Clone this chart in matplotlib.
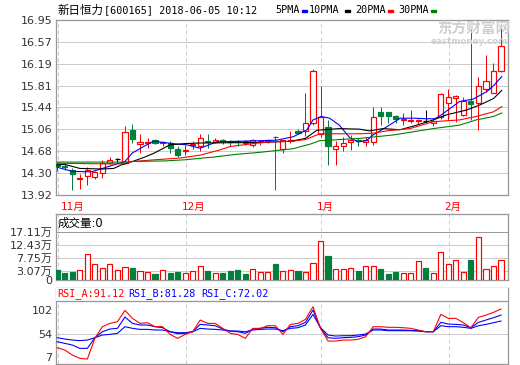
import matplotlib
matplotlib.use('Agg')
import matplotlib.pyplot as plt
from matplotlib.patches import Rectangle
from matplotlib.transforms import blended_transform_factory
import numpy as np

plt.rcParams['font.family'] = ['DejaVu Sans', 'Noto Sans CJK SC']

W, H = 520, 365
PX = 0.72  # one pixel in points at dpi 100

# ---- data ----
# open, high, low, close per trading day
ohlc = [
    (14.45, 14.50, 14.33, 14.42), (14.43, 14.46, 14.36, 14.40), (14.36, 14.38, 14.01, 14.28),
    (14.20, 14.28, 14.03, 14.22), (14.25, 14.40, 14.09, 14.35), (14.23, 14.34, 14.20, 14.32),
    (14.30, 14.53, 14.22, 14.47), (14.48, 14.57, 14.46, 14.52), (14.55, 14.56, 14.47, 14.55),
    (14.48, 15.11, 14.46, 15.01), (15.05, 15.15, 14.82, 14.89), (14.81, 14.98, 14.65, 14.83),
    (14.82, 14.90, 14.73, 14.84), (14.87, 14.89, 14.80, 14.82), (14.82, 14.86, 14.76, 14.83),
    (14.82, 14.85, 14.65, 14.74), (14.72, 14.77, 14.58, 14.62), (14.69, 14.78, 14.62, 14.70),
    (14.78, 14.85, 14.71, 14.80), (14.76, 14.97, 14.68, 14.91), (14.85, 14.97, 14.73, 14.83),
    (14.84, 14.90, 14.82, 14.88), (14.87, 14.89, 14.80, 14.86), (14.85, 14.87, 14.77, 14.84),
    (14.85, 14.87, 14.77, 14.83), (14.85, 14.88, 14.78, 14.82), (14.79, 14.89, 14.75, 14.87),
    (14.83, 14.87, 14.79, 14.85), (14.86, 14.88, 14.82, 14.87), (14.93, 14.94, 14.01, 14.92),
    (14.72, 14.88, 14.65, 14.87), (14.86, 15.02, 14.82, 14.88), (15.03, 15.06, 14.97, 14.99),
    (15.02, 15.69, 14.95, 15.17), (15.16, 16.10, 15.14, 16.06), (14.98, 15.80, 14.92, 15.27),
    (15.10, 15.22, 14.44, 14.77), (14.72, 14.86, 14.44, 14.77), (14.77, 14.92, 14.69, 14.82),
    (14.83, 14.96, 14.70, 14.87), (14.88, 14.91, 14.77, 14.85), (14.84, 14.92, 14.77, 14.88),
    (14.84, 15.45, 14.79, 15.27), (15.36, 15.45, 15.13, 15.28), (15.35, 15.36, 15.16, 15.29),
    (15.29, 15.30, 15.16, 15.24), (15.22, 15.34, 15.13, 15.24), (15.20, 15.39, 15.17, 15.22),
    (15.20, 15.24, 15.15, 15.21), (15.20, 15.39, 15.17, 15.20), (15.16, 15.24, 15.12, 15.20),
    (15.27, 15.69, 15.24, 15.67), (15.52, 15.75, 15.22, 15.62), (15.60, 15.66, 15.19, 15.63),
    (15.31, 15.61, 15.28, 15.54), (15.54, 16.79, 15.22, 15.50), (15.51, 15.97, 15.05, 15.81),
    (15.75, 16.34, 15.71, 15.89), (15.69, 16.21, 15.68, 16.07), (16.07, 16.86, 16.05, 16.50),
]

# volume in 万
volume = [3.6, 2.6, 2.85, 3.6, 9.3, 5.7, 4.2, 5.7, 3.6, 4.5,
          4.3, 3.1, 2.85, 2.25, 3.45, 2.6, 2.95, 2.5, 3.3, 5.0,
          3.2, 2.4, 2.6, 3.3, 3.6, 2.25, 3.8, 2.85, 2.75, 5.7,
          3.1, 3.45, 3.2, 2.85, 5.9, 13.9, 8.55, 3.8, 3.8, 4.2,
          3.2, 4.9, 4.9, 3.9, 2.1, 2.85, 2.4, 2.4, 6.65, 4.3,
          2.4, 9.9, 5.6, 7.0, 2.75, 7.1, 15.2, 3.8, 4.9, 7.0]

# moving averages, sampled at (day index, value)
ma5_x = [0, 2, 4.5, 6, 7.5, 9, 10, 11.5, 12.8, 16, 17.2, 19, 21.2, 27, 29.2, 31.4, 33.2, 34,
         35.1, 36.2, 37.5, 38.9, 40, 41.1, 42, 43.8, 45.6, 47.4, 49.1, 50.2, 51.1, 53.5, 55.3,
         57.1, 58, 59.1]
ma5_y = [14.40, 14.33, 14.32, 14.38, 14.44, 14.50, 14.65, 14.76, 14.85, 14.80, 14.79, 14.73,
         14.84, 14.86, 14.87, 14.93, 15.05, 15.22, 15.28, 15.25, 15.13, 14.91, 14.84, 14.86,
         14.96, 15.10, 15.25, 15.25, 15.24, 15.24, 15.31, 15.54, 15.58, 15.71, 15.81, 15.97]
ma10_x = [0, 1, 3, 6, 7.5, 8.5, 10, 11.5, 12.8, 15, 17, 19, 27, 31, 33, 34.5, 37.5, 40.2, 41.5,
          43.3, 45.6, 47.8, 50, 51.8, 54.4, 56.2, 58, 59.1]
ma10_y = [14.44, 14.45, 14.38, 14.37, 14.38, 14.44, 14.50, 14.57, 14.64, 14.79, 14.81, 14.82,
          14.83, 14.85, 14.90, 15.04, 15.07, 15.06, 15.03, 15.07, 15.05, 15.13, 15.22, 15.31,
          15.39, 15.48, 15.59, 15.73]
ma20_x = [0, 6, 8.5, 10, 13, 16.3, 19, 21.6, 23, 26.7, 28.3, 31.2, 33, 34.9, 40.2, 42, 43.8,
          46.9, 50, 53.5, 55.7, 58, 59.1]
ma20_y = [14.47, 14.46, 14.46, 14.50, 14.53, 14.56, 14.61, 14.70, 14.76, 14.82, 14.84, 14.85,
          14.88, 14.98, 14.98, 14.99, 15.03, 15.07, 15.19, 15.22, 15.28, 15.36, 15.45]
ma30_x = [0, 9, 10, 14.3, 17, 21, 23.5, 27, 31.3, 33.6, 34.9, 40.2, 44.7, 50, 53.5, 55.7, 58, 59.1]
ma30_y = [14.49, 14.49, 14.50, 14.51, 14.53, 14.58, 14.62, 14.66, 14.72, 14.80, 14.86, 14.90,
          14.96, 15.07, 15.13, 15.22, 15.28, 15.34]

rsi_a = [25.4, 20.7, 10.5, 3.7, 2.3, 44.5, 68.3, 75.0, 78.5, 101.6,
         85.3, 75.0, 76.4, 68.3, 68.3, 52.6, 44.5, 52.6, 58.0, 81.9,
         75.0, 75.0, 64.9, 54.7, 52.6, 44.5, 64.9, 64.9, 70.3, 70.3,
         52.6, 73.0, 75.0, 83.2, 109.0, 64.9, 39.0, 39.0, 41.0, 41.0,
         42.4, 47.9, 68.3, 68.3, 67.0, 67.0, 66.2, 64.9, 61.5, 58.0,
         58.0, 93.4, 85.3, 85.3, 76.4, 66.2, 87.3, 92.0, 97.5, 104.3]
rsi_b = [37.7, 34.3, 30.9, 24.1, 24.1, 45.8, 58.0, 63.5, 64.9, 88.0,
         75.0, 71.7, 71.7, 68.3, 66.2, 58.0, 54.0, 54.7, 58.0, 73.0,
         71.7, 70.3, 63.5, 59.4, 58.0, 54.7, 63.5, 64.9, 67.0, 66.2,
         58.0, 68.3, 70.3, 77.1, 102.3, 64.9, 45.8, 44.5, 45.8, 46.5,
         47.9, 51.3, 63.5, 63.5, 61.5, 61.5, 61.5, 60.8, 60.1, 58.0,
         58.0, 77.1, 73.7, 73.0, 71.7, 66.2, 77.1, 81.9, 86.6, 92.0]
rsi_c = [45.8, 43.1, 41.1, 39.7, 41.1, 45.8, 51.3, 52.6, 54.7, 68.3,
         64.9, 62.8, 62.8, 61.5, 61.5, 58.0, 56.0, 56.0, 58.0, 64.9,
         63.5, 62.8, 61.5, 59.4, 59.4, 58.0, 61.5, 62.8, 63.5, 63.5,
         60.1, 64.9, 66.2, 71.7, 93.4, 66.2, 51.3, 49.2, 49.9, 49.9,
         51.3, 53.3, 61.5, 61.5, 60.1, 60.1, 60.1, 60.1, 59.4, 58.0,
         58.0, 70.3, 68.3, 68.3, 67.0, 64.9, 70.3, 73.0, 76.4, 79.8]

price_ticks = [13.92, 14.30, 14.68, 15.06, 15.44, 15.81, 16.19, 16.57, 16.95]
vol_ticks = [0, 3.07, 7.75, 12.43, 17.11]
vol_labels = ['0', '3.07万', '7.75万', '12.43万', '17.11万']
rsi_ticks = [7, 54, 102]
month_start = [0, 17, 35, 52]
month_names = ['11月', '12月', '1月', '2月']

RED, GREEN, BLUE = '#ff0000', '#00803c', '#0000ff'
GRID, FRAME, TXT = '#cccccc', '#999999', '#333333'
XL = (-0.17, 59.93)
BW = 0.68

fig = plt.figure(figsize=(W / 100, H / 100), dpi=100)


def box(top, bottom):
    return [56 / W, 1 - bottom / H, (508 - 56) / W, (bottom - top) / H]


def frame(ax):
    ax.set_xlim(*XL)
    ax.set_xticks([])
    for s in ax.spines.values():
        s.set_color(FRAME)
        s.set_linewidth(PX * 1.3)
    ax.tick_params(axis='y', length=0, pad=2.5, labelsize=8, labelcolor=TXT)
    for m in month_start:
        ax.axvline(m + 0.1, color=GRID, lw=PX, ls=(0, (4, 3)), zorder=0)


# ---- price panel ----
ax_p = fig.add_axes(box(20, 195))
frame(ax_p)
ax_p.set_ylim(13.92, 16.95)
ax_p.set_yticks(price_ticks)
ax_p.set_yticklabels(['%.2f' % t for t in price_ticks])
for t in price_ticks[1:-1]:
    ax_p.axhline(t, color=GRID, lw=PX, zorder=0)

prev_c = None
for i, (o, hi, lo, c) in enumerate(ohlc):
    if c > o:
        col, face = RED, 'white'
    elif c < o:
        col, face = GREEN, GREEN
    else:
        col, face = 'black', 'black'
    top, bot = max(o, c), min(o, c)
    ax_p.vlines(i, top, hi, color=col, lw=PX, zorder=3)
    ax_p.vlines(i, lo, bot, color=col, lw=PX, zorder=3)
    if c == o:
        ax_p.hlines(o, i - BW / 2, i + BW / 2, color=col, lw=PX * 1.3, zorder=3)
    else:
        ax_p.add_patch(Rectangle((i - BW / 2, bot), BW, top - bot, facecolor=face,
                                 edgecolor=col, lw=PX * 1.2, zorder=3))

ax_p.plot(ma5_x, ma5_y, color=BLUE, lw=PX * 1.1, zorder=4)
ax_p.plot(ma10_x, ma10_y, color='black', lw=PX * 1.1, zorder=4)
ax_p.plot(ma20_x, ma20_y, color=RED, lw=PX * 1.1, zorder=4)
ax_p.plot(ma30_x, ma30_y, color='#008000', lw=PX * 1.1, zorder=4)

tr = blended_transform_factory(ax_p.transData, ax_p.transAxes)
for m, name in zip(month_start, month_names):
    ax_p.text(max(m - 0.5, 0.5), -0.069, name, transform=tr, color=RED, fontsize=7.5,
              ha='left', va='center', clip_on=False)

# watermark
fig.text(437 / W, 1 - 29 / H, '东方财富网', fontsize=10.5, color='#d0d0d0', weight='bold',
         family=['Noto Sans CJK SC'], ha='left', va='center')
fig.text(508 / W, 1 - 41 / H, 'eastmoney.com', fontsize=6.3, color='#d0d0d0', weight='bold',
         ha='right', va='center')

# ---- volume panel ----
ax_v = fig.add_axes(box(214, 280))
frame(ax_v)
ax_v.set_ylim(0, 17.11 * 66 / 48)
ax_v.set_yticks(vol_ticks)
ax_v.set_yticklabels(vol_labels)
for t in vol_ticks[1:]:
    ax_v.axhline(t, color=FRAME if t == vol_ticks[-1] else GRID, lw=PX, zorder=0)

for i, ((o, hi, lo, c), v) in enumerate(zip(ohlc, volume)):
    up = c > o or (c == o and (i == 0 or c >= ohlc[i - 1][3]))
    ax_v.add_patch(Rectangle((i - BW / 2, 0), BW, v, facecolor='white' if up else GREEN,
                             edgecolor=RED if up else GREEN, lw=PX * 1.2, zorder=3))
ax_v.text(58 / W, 1 - 223 / H, '成交量:0', transform=fig.transFigure, fontsize=8.3,
          color='black', ha='left', va='center')

# ---- RSI panel ----
ax_r = fig.add_axes(box(288, 364))
frame(ax_r)
ax_r.set_ylim(-7.8, 147.2)
ax_r.set_yticks(rsi_ticks)
ax_r.set_yticklabels([str(t) for t in rsi_ticks])
ax_r.axhline(54, color=GRID, lw=PX, zorder=0)
ax_r.axhline(120.7, color=FRAME, lw=PX * 1.3, zorder=5)
ax_r.add_patch(Rectangle((XL[0], 120.7), XL[1] - XL[0], 30, facecolor='white', zorder=4))
days = np.arange(len(rsi_a))
ax_r.plot(days, rsi_c, color=BLUE, lw=PX * 1.1, zorder=3)
ax_r.plot(days, rsi_b, color=BLUE, lw=PX * 1.1, zorder=3)
ax_r.plot(days, rsi_a, color=RED, lw=PX * 1.1, zorder=3)

mono = 'DejaVu Sans Mono'
for x, s, col in [(57, 'RSI_A:91.12', RED), (128, 'RSI_B:81.28', BLUE), (201, 'RSI_C:72.02', BLUE)]:
    fig.text(x / W, 1 - 294 / H, s, color=col, fontsize=7.3, family=mono, ha='left', va='center')

# ---- header ----
fig.text(57 / W, 1 - 10 / H, '新日恒力', fontsize=8.3, family=['Noto Sans CJK SC'],
         color='black', ha='left', va='center')
fig.text(104 / W, 1 - 10 / H, '[600165] 2018-06-05 10:12', fontsize=7.3, family=mono,
         color='black', ha='left', va='center')
for x, s, dx, col in [(275, '5PMA', 302, BLUE), (309, '10PMA', 345, 'black'),
                      (355, '20PMA', 388, RED), (398, '30PMA', 431, '#008000')]:
    fig.text(x / W, 1 - 10 / H, s, fontsize=7.3, family=mono, color='black',
             ha='left', va='center')
    fig.add_artist(Rectangle((dx / W, 1 - 12 / H), 5 / W, 2 / H, transform=fig.transFigure,
                             color=col))

fig.savefig('out.png', dpi=100)
